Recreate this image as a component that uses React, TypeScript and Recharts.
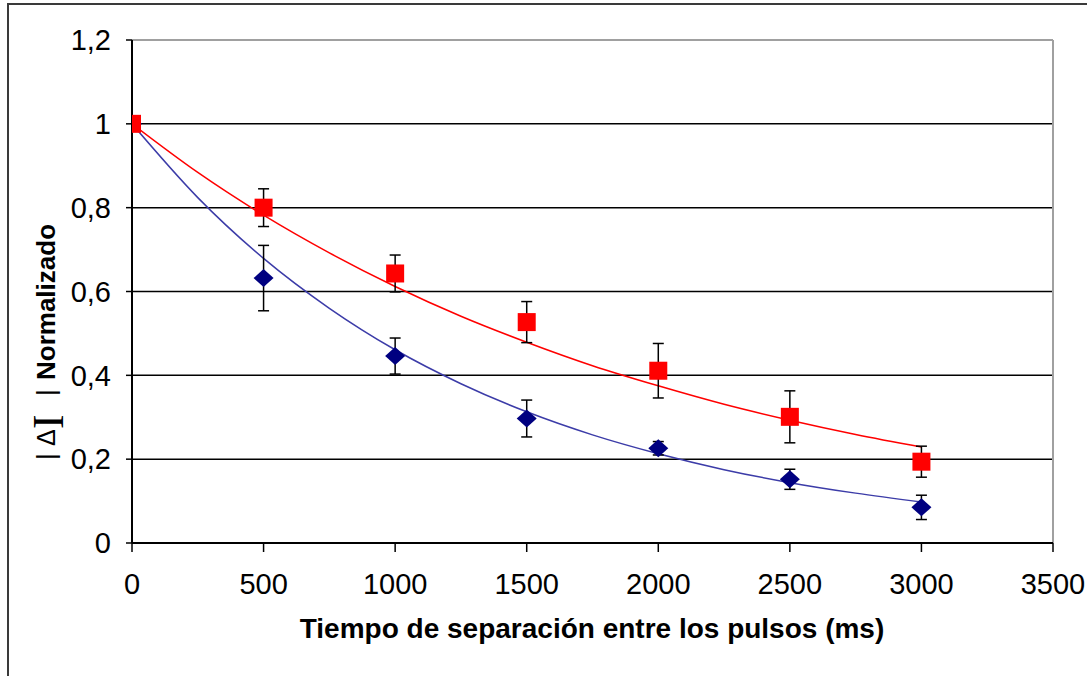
import React from 'react';
import {
  ComposedChart,
  XAxis,
  YAxis,
  CartesianGrid,
  Scatter,
  Line,
  ErrorBar,
  ReferenceLine,
  Label,
} from 'recharts';

// Pulse separation times (ms) of the measured points
const times = [0, 500, 1000, 1500, 2000, 2500, 3000];

// Series 1 (navy diamonds): normalized |ΔI| and its error
const blueValues = [1.0, 0.632, 0.446, 0.297, 0.226, 0.152, 0.085];
const blueErrors = [0, 0.078, 0.043, 0.044, 0.016, 0.024, 0.029];

// Series 2 (red squares): normalized |ΔI| and its error
const redValues = [1.0, 0.8, 0.643, 0.527, 0.411, 0.301, 0.194];
const redErrors = [0, 0.045, 0.044, 0.049, 0.065, 0.062, 0.037];

// Exponential trend curves, sampled every 250 ms
const trendTimes = [0, 250, 500, 750, 1000, 1250, 1500, 1750, 2000, 2250, 2500, 2750, 3000];
const blueTrend = [1.0, 0.824, 0.679, 0.56, 0.461, 0.38, 0.313, 0.258, 0.213, 0.175, 0.144, 0.119, 0.098];
const redTrend = [1.0, 0.884, 0.782, 0.692, 0.612, 0.541, 0.479, 0.423, 0.375, 0.331, 0.293, 0.259, 0.229];

const xTicks = [0, 500, 1000, 1500, 2000, 2500, 3000, 3500];
const yTicks = [0, 0.2, 0.4, 0.6, 0.8, 1.0, 1.2];
const gridValues = [0.2, 0.4, 0.6, 0.8, 1.0];

const bluePoints = times.map((x, i) => ({ x, y: blueValues[i], err: blueErrors[i] }));
const redPoints = times.map((x, i) => ({ x, y: redValues[i], err: redErrors[i] }));
const blueLine = trendTimes.map((x, i) => ({ x, y: blueTrend[i] }));
const redLine = trendTimes.map((x, i) => ({ x, y: redTrend[i] }));

const TICK_FONT = "'Liberation Sans Narrow', 'Arial Narrow', 'Liberation Sans', Arial, sans-serif";
const SANS = "'Liberation Sans', Arial, sans-serif";
const SERIF = "'Liberation Serif', 'Times New Roman', serif";

const formatTick = (v: number) => String(Math.round(v * 10) / 10).replace('.', ',');

const Square = (p: any) => (
  <rect x={p.cx - 9} y={p.cy - 9} width={18} height={18} fill="#ff0000" />
);

const Diamond = (p: any) => (
  <polygon
    points={`${p.cx},${p.cy - 9} ${p.cx + 10},${p.cy} ${p.cx},${p.cy + 9} ${p.cx - 10},${p.cy}`}
    fill="#000080"
  />
);

const YTitle = () => (
  <text transform="translate(55,460) rotate(-90)" fill="#000">
    <tspan x={0} y={0} style={{ fontFamily: SANS, fontSize: 26 }}>|</tspan>
    <tspan x={14} y={0} style={{ fontFamily: SANS, fontSize: 25 }}>Δ</tspan>
    <tspan x={31} y={8} style={{ fontFamily: SERIF, fontSize: 44 }}>I</tspan>
    <tspan x={64} y={0} style={{ fontFamily: SANS, fontSize: 26 }}>|</tspan>
    <tspan x={80} y={0} style={{ fontFamily: SANS, fontSize: 26, fontWeight: 700 }}>Normalizado</tspan>
  </text>
);

const XTitle = () => (
  <text x={592} y={638} textAnchor="middle" fill="#000" style={{ fontFamily: SANS, fontSize: 28, fontWeight: 700 }}>
    Tiempo de separación entre los pulsos (ms)
  </text>
);

export default function App() {
  return (
    <div style={{ position: 'fixed', left: 0, top: 0, width: 1087, height: 676, overflow: 'hidden', background: '#fff' }}>
      <div
        style={{
          position: 'absolute',
          left: 7,
          top: 3,
          width: 1200,
          height: 800,
          border: '2px solid #3a3a3a',
          boxSizing: 'border-box',
        }}
      />
      <div style={{ position: 'absolute', left: 0, top: 0 }}>
        <ComposedChart
          width={1087}
          height={676}
          margin={{ top: 40, right: 34, bottom: 103, left: 72 }}
        >
          <CartesianGrid
            horizontal
            vertical={false}
            horizontalValues={gridValues}
            stroke="#000"
            strokeWidth={1.5}
          />
          <ReferenceLine y={1.2} stroke="#a0a0a0" strokeWidth={2} />
          <ReferenceLine x={3500} stroke="#a0a0a0" strokeWidth={2} />
          <XAxis
            type="number"
            dataKey="x"
            domain={[0, 3500]}
            ticks={xTicks}
            interval={0}
            height={30}
            tickSize={9}
            tickMargin={21}
            axisLine={{ stroke: '#000', strokeWidth: 2 }}
            tickLine={{ stroke: '#000', strokeWidth: 1.5 }}
            tick={{ fill: '#000', fontSize: 29, fontFamily: TICK_FONT }}
            allowDataOverflow
          >
            <Label content={<XTitle />} />
          </XAxis>
          <YAxis
            type="number"
            dataKey="y"
            domain={[0, 1.2]}
            ticks={yTicks}
            interval={0}
            width={60}
            tickSize={6}
            tickMargin={15}
            tickFormatter={formatTick}
            axisLine={{ stroke: '#000', strokeWidth: 2 }}
            tickLine={{ stroke: '#000', strokeWidth: 1.5 }}
            tick={{ fill: '#000', fontSize: 29, fontFamily: TICK_FONT }}
            allowDataOverflow
          >
            <Label content={<YTitle />} />
          </YAxis>
          <Line
            data={blueLine}
            dataKey="y"
            type="monotone"
            dot={false}
            stroke="#3c3ca8"
            strokeWidth={1.5}
            isAnimationActive={false}
          />
          <Line
            data={redLine}
            dataKey="y"
            type="monotone"
            dot={false}
            stroke="#ff0000"
            strokeWidth={1.5}
            isAnimationActive={false}
          />
          <Scatter data={bluePoints} dataKey="y" shape={Diamond} isAnimationActive={false}>
            <ErrorBar dataKey="err" direction="y" width={5.5} stroke="#000" strokeWidth={1.5} />
          </Scatter>
          <Scatter data={redPoints} dataKey="y" shape={Square} isAnimationActive={false}>
            <ErrorBar dataKey="err" direction="y" width={5.5} stroke="#000" strokeWidth={1.5} />
          </Scatter>
        </ComposedChart>
      </div>
    </div>
  );
}
